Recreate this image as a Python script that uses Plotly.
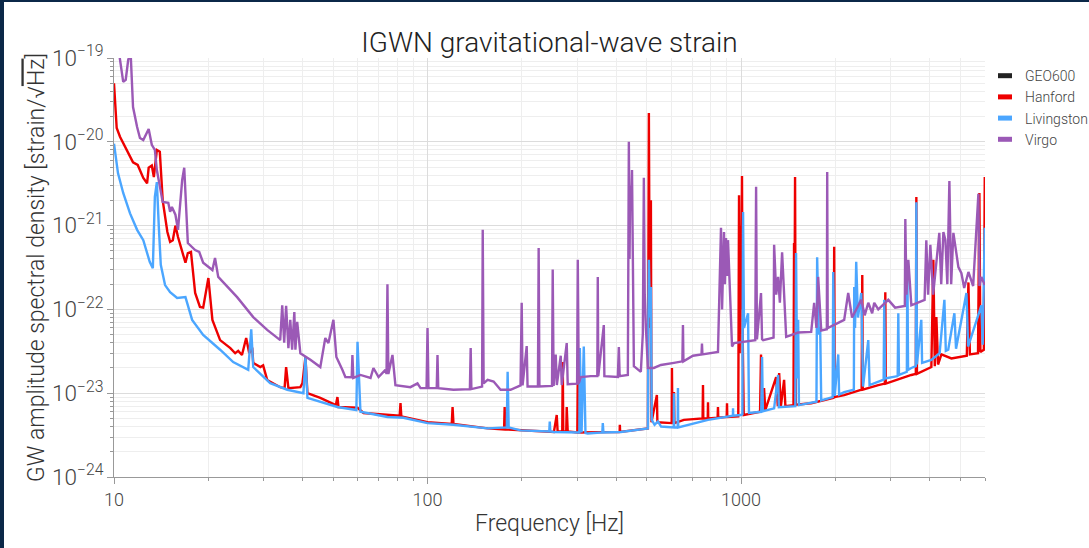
import plotly.graph_objects as go
import math

# ---------------- data ----------------
detectors = ["GEO600", "Hanford", "Livingston", "Virgo"]
colors = ["#222222", "#ee0000", "#4ba6ff", "#9b59b6"]

geo600_freq = []
geo600_asd = []

hanford_freq = [10.0, 10.2, 10.45, 11.0, 11.5, 11.9, 12.4, 12.75, 12.9, 13.2, 13.4, 13.7, 14.0, 14.3, 14.8,
                15.1, 15.4, 15.7, 16.0, 16.9, 17.2, 17.6, 18.15, 18.8, 19.25, 20.0, 20.6, 21.8, 23.5, 24.35,
                24.9, 25.6, 26.4, 27.0, 27.6, 27.8, 29.3, 29.9, 30.8, 33.9, 35.0, 35.4, 36.0, 39.3, 39.9,
                40.8, 41.4, 45.5, 51.0, 51.6, 52.0, 59.8, 62.5, 81.5, 82.0, 82.5, 100.0, 119.5, 120.2,
                121.0, 155.5, 175.5, 176.2, 177.0, 198.0, 253.0, 258.3, 260.0, 269.0, 270.0, 271.0, 277.0,
                278.0, 280.0, 300.5, 301.5, 303.0, 410.0, 410.6, 411.5, 504.5, 506.0, 508.2, 510.0, 512.0,
                515.8, 518.0, 539.0, 541.0, 601.0, 602.0, 604.0, 611.0, 613.0, 657.5, 754.0, 756.2, 758.0,
                783.0, 784.6, 786.0, 842.0, 844.2, 846.0, 900.0, 902.1, 904.0, 980.0, 985.4, 990.0, 995.0,
                1000.0, 1007.0, 1012.0, 1020.0, 1150.0, 1158.0, 1170.0, 1184.0, 1195.0, 1294.0, 1310.0,
                1323.0, 1340.0, 1372.0, 1385.0, 1470.0, 1476.0, 1481.0, 1487.0, 1495.0, 1674.0, 1975.0,
                1982.0, 1990.0, 2133.0, 2425.0, 2436.0, 2445.0, 2740.0, 2875.0, 2885.0, 2895.0, 3493.0,
                3610.0, 3624.0, 3640.0, 4046.0, 4106.0, 4150.0, 4198.0, 4250.0, 4355.0, 4688.0, 5250.0,
                5312.0, 5370.0, 5700.0, 5758.0, 5800.0, 5950.0, 5990.0]
hanford_asd = [5.0e-20, 1.46e-20, 1.15e-20, 8.0e-21, 5.7e-21, 5.3e-21, 3.7e-21, 3.2e-21, 4.9e-21, 5.2e-21,
               3.8e-21, 8.0e-21, 7.6e-21, 2.0e-21, 8.4e-22, 6.4e-22, 6.7e-22, 1.0e-21, 7.3e-22, 3.6e-22,
               4.7e-22, 4.85e-22, 1.57e-22, 1.07e-22, 1.05e-22, 2.37e-22, 7.5e-23, 4.3e-23, 3.45e-23,
               3.0e-23, 3.2e-23, 2.86e-23, 4.55e-23, 3.0e-23, 3.5e-23, 2.3e-23, 2.05e-23, 2.15e-23,
               1.44e-23, 1.18e-23, 1.15e-23, 2.05e-23, 1.15e-23, 1.18e-23, 1.31e-23, 2.7e-23, 1.0e-23,
               8.8e-24, 7.2e-24, 9.0e-24, 6.85e-24, 6.7e-24, 5.8e-24, 5.4e-24, 7.6e-24, 5.3e-24, 4.5e-24,
               4.3e-24, 6.85e-24, 4.3e-24, 3.8e-24, 3.7e-24, 6.85e-24, 3.7e-24, 3.6e-24, 3.45e-24,
               5.5e-24, 3.5e-24, 3.5e-24, 2.35e-23, 3.5e-24, 3.5e-24, 6.85e-24, 3.5e-24, 3.4e-24,
               1.74e-23, 3.4e-24, 3.45e-24, 4.2e-24, 3.45e-24, 3.8e-24, 5.0e-22, 2.2e-20, 1.0e-21,
               6.0e-23, 2.0e-21, 4.5e-24, 9.5e-24, 4.5e-24, 4.4e-24, 2.0e-23, 4.4e-24, 1.03e-23, 4.4e-24,
               4.8e-24, 5.0e-24, 1.25e-23, 5.0e-24, 5.0e-24, 7.8e-24, 5.0e-24, 5.1e-24, 6.85e-24, 5.1e-24,
               5.2e-24, 7.6e-24, 5.2e-24, 5.3e-24, 2.3e-21, 3.0e-23, 1.0e-21, 1.0e-22, 3.9e-21, 5.0e-23,
               5.5e-24, 6.0e-24, 2.9e-23, 6.2e-24, 1.15e-23, 6.3e-24, 1.56e-23, 7.0e-24, 1.74e-23, 7.0e-24,
               1.44e-23, 7.0e-24, 7.2e-24, 6.2e-22, 1.0e-22, 3.8e-21, 7.3e-24, 7.6e-24, 8.8e-24, 5.6e-22,
               9.0e-24, 9.5e-24, 1.1e-23, 2.57e-22, 1.1e-23, 1.25e-23, 1.3e-23, 1.6e-22, 1.3e-23,
               1.65e-23, 1.7e-23, 2.2e-21, 1.7e-23, 2.05e-23, 3.9e-22, 2.1e-23, 8.1e-23, 2.2e-23, 2.9e-23,
               2.6e-23, 2.8e-23, 2.1e-22, 2.9e-23, 3.0e-23, 2.45e-21, 3.1e-23, 3.3e-23, 3.8e-21]

livingston_freq = [10.0, 10.3, 10.7, 11.25, 11.85, 12.4, 13.0, 13.3, 13.5, 13.7, 13.9, 14.1, 14.55, 15.1,
                   15.9, 16.9, 17.75, 19.25, 21.8, 24.0, 26.8, 27.4, 27.8, 31.5, 35.7, 40.2, 40.8, 41.4,
                   51.6, 59.3, 59.8, 61.1, 74.5, 83.8, 100.0, 121.0, 155.5, 179.0, 180.1, 181.5, 198.0,
                   244.5, 245.4, 246.5, 253.0, 305.0, 306.0, 310.0, 315.1, 319.0, 324.5, 361.0, 362.3,
                   364.0, 413.7, 504.5, 506.0, 508.2, 512.0, 515.8, 519.0, 530.0, 543.0, 556.0, 610.0,
                   610.9, 612.0, 628.0, 629.1, 630.5, 784.6, 942.0, 943.0, 944.0, 1000.0, 1010.0, 1015.0,
                   1022.0, 1053.0, 1060.0, 1160.0, 1167.0, 1174.0, 1275.0, 1313.0, 1320.0, 1490.0, 1498.0,
                   1510.0, 1521.0, 1530.0, 1637.0, 1740.0, 1749.0, 1770.0, 1788.0, 1802.0, 1960.0, 1968.0,
                   1990.0, 2042.0, 2055.0, 2133.0, 2290.0, 2296.0, 2310.0, 2330.0, 2360.0, 2418.0, 2450.0,
                   2546.0, 2570.0, 2740.0, 2850.0, 2863.0, 2880.0, 3160.0, 3174.0, 3190.0, 3380.0, 3392.0,
                   3410.0, 3493.0, 3610.0, 3624.0, 3640.0, 3758.0, 3780.0, 4046.0, 4300.0, 4453.0, 4500.0,
                   4580.0, 4792.0, 4850.0, 5235.0, 5300.0, 5844.0, 5900.0, 5990.0]
livingston_asd = [9.5e-21, 4.2e-21, 2.45e-21, 1.4e-21, 8.9e-22, 6.7e-22, 3.7e-22, 3.1e-22, 2.2e-21, 3.3e-21,
                  9.6e-22, 3.4e-22, 1.95e-22, 1.6e-22, 1.37e-22, 1.4e-22, 7.5e-23, 4.95e-23, 3.3e-23,
                  2.35e-23, 1.9e-23, 5.8e-23, 2.05e-23, 1.32e-23, 1.1e-23, 1.0e-23, 2.7e-23, 8.8e-24,
                  6.85e-24, 6.3e-24, 4.1e-23, 6.0e-24, 5.2e-24, 5.1e-24, 4.4e-24, 4.2e-24, 3.8e-24, 3.9e-24,
                  1.8e-23, 3.9e-24, 3.6e-24, 3.5e-24, 4.6e-24, 3.5e-24, 3.45e-24, 3.4e-24, 3.45e-23, 3.4e-24,
                  3.6e-23, 3.35e-24, 3.3e-24, 3.4e-24, 4.4e-24, 3.4e-24, 3.45e-24, 3.8e-24, 5.0e-23, 3.9e-22,
                  8.0e-23, 1.85e-22, 4.8e-24, 4.2e-24, 4.6e-24, 4.0e-24, 3.9e-24, 1.0e-23, 3.9e-24, 3.9e-24,
                  1.15e-23, 3.9e-24, 4.8e-24, 5.4e-24, 6.6e-24, 5.4e-24, 5.5e-24, 5.6e-24, 1.45e-21, 6.0e-23,
                  9.0e-23, 5.8e-24, 6.0e-24, 2.7e-23, 6.1e-24, 6.6e-24, 1.65e-23, 6.8e-24, 7.0e-24, 4.7e-22,
                  1.5e-23, 7.5e-23, 7.2e-24, 7.6e-24, 7.9e-24, 4.2e-22, 5.0e-23, 6.2e-23, 8.2e-24, 9.0e-24,
                  2.8e-22, 9.3e-24, 2.9e-23, 9.6e-24, 1.03e-23, 1.1e-23, 1.85e-22, 6.0e-23, 3.7e-22, 8.0e-23,
                  1.57e-22, 1.2e-23, 4.3e-23, 1.25e-23, 1.38e-23, 1.45e-23, 1.3e-22, 1.5e-23, 1.6e-23,
                  9.0e-23, 1.65e-23, 1.8e-23, 3.7e-22, 1.9e-23, 2.0e-23, 2.1e-23, 1.9e-21, 2.2e-23, 7.5e-23,
                  2.3e-23, 2.5e-23, 3.0e-23, 1.3e-22, 3.2e-23, 3.3e-23, 9.0e-23, 3.4e-23, 1.57e-22, 3.6e-23,
                  1.12e-22, 3.8e-23, 9.4e-22]

virgo_freq = [10.0, 10.4, 10.5, 10.7, 10.9, 11.1, 11.3, 11.5, 11.85, 12.1, 12.4, 12.75, 12.9, 13.2, 13.5,
              13.7, 14.0, 14.3, 14.9, 15.1, 15.3, 15.7, 16.0, 16.5, 16.75, 17.1, 17.2, 18.15, 18.7, 19.25,
              20.6, 21.0, 21.5, 24.7, 27.8, 30.8, 33.9, 34.4, 34.9, 35.4, 36.0, 36.5, 37.0, 37.6, 37.9,
              38.4, 39.3, 42.3, 45.5, 47.2, 48.3, 50.1, 51.2, 53.5, 54.7, 57.3, 57.6, 58.0, 61.1, 65.8,
              67.2, 69.8, 73.4, 74.0, 74.5, 75.0, 77.3, 79.0, 88.2, 92.9, 95.0, 99.3, 100.0, 100.7, 107.0,
              107.6, 108.2, 121.0, 136.5, 137.3, 138.0, 149.3, 150.0, 151.0, 155.5, 162.5, 171.0, 184.0,
              198.0, 199.7, 201.0, 207.2, 208.5, 225.0, 226.2, 227.5, 249.5, 250.8, 252.5, 256.4, 258.5,
              266.0, 268.0, 278.0, 280.0, 300.0, 301.5, 303.7, 308.3, 331.7, 348.0, 349.2, 350.5, 365.0,
              366.5, 404.6, 407.6, 410.0, 435.5, 438.7, 441.0, 443.0, 446.0, 449.0, 452.0, 455.2, 479.1,
              486.2, 489.8, 493.0, 497.1, 504.5, 527.2, 555.1, 611.0, 650.0, 652.7, 655.0, 702.5, 748.0,
              750.6, 753.0, 844.2, 863.1, 870.0, 882.4, 888.0, 895.5, 902.0, 908.8, 922.3, 936.0, 950.0,
              1000.0, 1110.0, 1117.0, 1124.0, 1158.0, 1167.0, 1176.0, 1270.0, 1275.0, 1295.0, 1313.0,
              1330.0, 1352.0, 1372.0, 1393.0, 1521.0, 1674.0, 1711.0, 1740.0, 1762.0, 1802.0, 1878.0,
              1883.0, 1890.0, 2133.0, 2197.0, 2260.0, 2418.0, 2480.0, 2546.0, 2620.0, 2660.0, 2740.0,
              2949.0, 3100.0, 3330.0, 3342.0, 3370.0, 3417.0, 3493.0, 3850.0, 3899.0, 3950.0, 4016.0,
              4100.0, 4290.0, 4350.0, 4420.0, 4486.0, 4550.0, 4619.0, 4680.0, 4757.0, 4935.0, 5045.0,
              5150.0, 5312.0, 5500.0, 5716.0, 5760.0, 5844.0, 5990.0]
virgo_asd = [3.0e-19, 1.1e-19, 7.8e-20, 5.2e-20, 5.5e-20, 9.5e-20, 1.15e-19, 2.6e-20, 1.5e-20, 1.11e-20,
             1.05e-20, 1.31e-20, 1.42e-20, 9.2e-21, 8.0e-21, 4.6e-21, 2.9e-21, 1.92e-21, 1.87e-21, 1.46e-21,
             1.67e-21, 1.35e-21, 8.9e-22, 3.5e-21, 4.9e-21, 1.08e-21, 6.2e-22, 5.1e-22, 4.85e-22, 3.6e-22,
             2.95e-22, 4.1e-22, 2.44e-22, 1.4e-22, 8.1e-23, 5.7e-23, 4.3e-23, 1.12e-22, 4.0e-23, 1.1e-22,
             3.45e-23, 7.5e-23, 3.3e-23, 9.3e-23, 3.3e-23, 7.1e-23, 3.0e-23, 2.5e-23, 2.05e-23, 4.55e-23,
             3.97e-23, 7.5e-23, 2.7e-23, 1.9e-23, 1.56e-23, 1.55e-23, 2.86e-23, 1.52e-23, 1.65e-23,
             1.52e-23, 2.0e-23, 1.56e-23, 1.9e-23, 1.7e-23, 2.0e-22, 1.7e-23, 2.86e-23, 1.25e-23, 1.18e-23,
             1.31e-23, 1.15e-23, 1.15e-23, 6.0e-23, 1.15e-23, 1.15e-23, 2.86e-23, 1.15e-23, 1.1e-23,
             1.12e-23, 3.45e-23, 1.12e-23, 1.2e-23, 8.9e-22, 1.31e-23, 1.44e-23, 1.38e-23, 1.1e-23, 1.1e-23,
             1.24e-23, 1.2e-22, 1.24e-23, 3.65e-23, 1.2e-23, 1.2e-23, 5.4e-22, 1.2e-23, 1.22e-23, 3.0e-22,
             1.22e-23, 2.9e-23, 1.25e-23, 2.8e-23, 1.25e-23, 3.97e-23, 1.28e-23, 1.3e-23, 3.9e-22, 1.31e-23,
             1.56e-23, 1.6e-23, 1.6e-23, 2.44e-22, 1.6e-23, 6.5e-23, 1.6e-23, 1.56e-23, 3.55e-23, 1.6e-23,
             1.65e-23, 1.0e-20, 4.0e-22, 3.0e-21, 1.5e-21, 4.6e-21, 5.0e-22, 2.1e-23, 1.8e-23, 5.2e-23,
             3.72e-21, 1.5e-22, 6.2e-23, 2.0e-23, 2.0e-23, 2.17e-23, 2.3e-23, 2.4e-23, 6.5e-23, 2.4e-23,
             2.8e-23, 2.9e-23, 3.9e-23, 2.9e-23, 3.1e-23, 9.4e-22, 1.0e-22, 8.4e-22, 2.0e-22, 7.1e-22,
             2.5e-22, 6.7e-22, 1.57e-22, 3.6e-23, 3.97e-23, 4.1e-23, 4.3e-23, 2.9e-21, 4.4e-23, 1.57e-22,
             4.4e-23, 4.3e-23, 4.6e-23, 5.9e-22, 1.5e-22, 2.44e-22, 1.2e-22, 4.8e-22, 1.57e-22, 4.7e-23,
             5.3e-23, 5.4e-23, 1.2e-22, 6.0e-23, 2.44e-22, 5.6e-23, 5.8e-23, 4.35e-21, 6.0e-23, 7.5e-23,
             1.57e-22, 8.0e-23, 1.3e-22, 8.5e-23, 1.2e-22, 9.0e-23, 1.2e-22, 1.0e-22, 1.3e-22, 1.05e-22,
             1.1e-22, 1.2e-21, 1.5e-22, 3.9e-22, 1.12e-22, 1.3e-22, 6.7e-22, 1.5e-22, 5.9e-22, 1.5e-22,
             8.2e-22, 2.0e-22, 8.4e-22, 6.7e-22, 2.0e-22, 3.4e-21, 2.0e-22, 8.2e-22, 3.2e-22, 2.7e-22,
             1.8e-22, 2.8e-22, 1.9e-22, 2.4e-21, 1.9e-22, 2.44e-22, 1.95e-22]

series_freq = [geo600_freq, hanford_freq, livingston_freq, virgo_freq]
series_asd = [geo600_asd, hanford_asd, livingston_asd, virgo_asd]

title_text = "IGWN gravitational-wave strain"
x_title = "Frequency [Hz]"
y_title = 'GW amplitude spectral density [strain/√<span style="text-decoration:overline">Hz</span>]'
x_range_hz = [10, 6000]
y_range = [1e-24, 1e-19]

# ---------------- figure ----------------
W, H = 1089, 548
ML, MR, MT, MB = 114, 104, 58, 71
PW, PH = W - ML - MR, H - MT - MB
FRAME = "#0b2848"

fig = go.Figure()
for name, col, fx, fy in zip(detectors, colors, series_freq, series_asd):
    fig.add_trace(go.Scatter(x=fx, y=fy, mode="lines", name=name,
                             showlegend=False, line=dict(color=col, width=2.4),
                             hoverinfo="skip"))
for name, col in zip(detectors, colors):
    fig.add_trace(go.Scatter(x=[None], y=[None], mode="markers", name=name,
                             marker=dict(symbol="line-ew", size=10, color=col,
                                         line=dict(color=col, width=7))))


def px2paper_x(px):
    return (px - ML) / PW


def px2paper_y(py):
    return (H - MB - py) / PH


fig.add_shape(type="rect", xref="paper", yref="paper", layer="above",
              x0=px2paper_x(-2), x1=px2paper_x(4), y0=px2paper_y(H + 2), y1=px2paper_y(-2),
              fillcolor=FRAME, line=dict(width=0))
fig.add_shape(type="rect", xref="paper", yref="paper", layer="above",
              x0=px2paper_x(-2), x1=px2paper_x(W + 2), y0=px2paper_y(2), y1=px2paper_y(-2),
              fillcolor=FRAME, line=dict(width=0))

axis_common = dict(
    type="log", showline=True, linecolor="#999999", linewidth=1,
    ticks="outside", ticklen=6, tickcolor="#999999", tickwidth=1,
    showgrid=True, gridcolor="#dcdcdc", gridwidth=1, zeroline=False,
    minor=dict(dtick="D1", ticks="outside", ticklen=3, tickcolor="#999999",
               showgrid=True, gridcolor="#eeeeee", gridwidth=1),
    tickfont=dict(size=18, color="#444444"),
    title_font=dict(size=23, color="#333333"),
)

fig.update_layout(
    width=W, height=H, autosize=False,
    margin=dict(l=ML, r=MR, t=MT, b=MB, pad=0, autoexpand=False),
    paper_bgcolor="white", plot_bgcolor="white",
    font=dict(family="Roboto", size=16, color="#444444", weight=300),
    title=dict(text=title_text, x=(ML + PW / 2) / W, xanchor="center", y=1 - 42 / H,
               yanchor="middle", font=dict(size=28, color="#222222", weight=300)),
    xaxis=dict(range=[math.log10(x_range_hz[0]), math.log10(x_range_hz[1])], dtick=1,
               title=dict(text=x_title, standoff=6), **axis_common),
    yaxis=dict(range=[math.log10(y_range[0]), math.log10(y_range[1])], dtick=1,
               exponentformat="power", showexponent="all",
               title=dict(text=y_title, standoff=0), **axis_common),
    legend=dict(x=1.0, xanchor="left", y=0.995, yanchor="top", bgcolor="rgba(0,0,0,0)",
                font=dict(size=14, color="#444444"), tracegroupgap=0),
    showlegend=True,
)

fig.write_html("out.html", config={"displayModeBar": False})
